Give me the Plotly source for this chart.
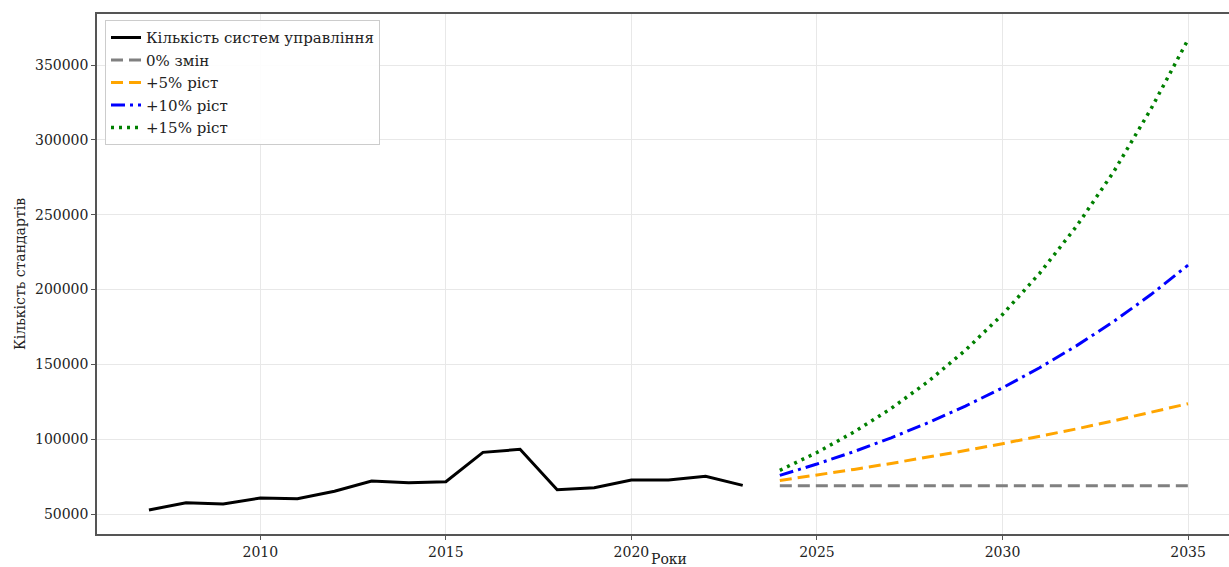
import plotly.graph_objects as go

hist_years = list(range(2007, 2024))
hist_values = [52700, 57500, 56700, 60700, 60200, 65200, 72000, 70900, 71600,
               91200, 93200, 66200, 67600, 72700, 72700, 75200, 69100]

proj_years = list(range(2024, 2036))
proj_0 = [68900] * 12
proj_5 = [72400, 76000, 79800, 83800, 88000, 92400, 97000, 101800, 106900, 112300, 117900, 123700]
proj_10 = [75800, 83400, 91700, 100900, 111000, 122100, 134300, 147700, 162500, 178700, 196600, 216300]
proj_15 = [79200, 91100, 104800, 120500, 138600, 159400, 183300, 210800, 242400, 278800, 320600, 367000]

x_ticks = [2010, 2015, 2020, 2025, 2030, 2035]
y_ticks = [50000, 100000, 150000, 200000, 250000, 300000, 350000]

FONT = "DejaVu Serif"

fig = go.Figure()
fig.add_trace(go.Scatter(x=hist_years, y=hist_values, mode="lines",
                         name="Кількість систем управління",
                         line=dict(color="black", width=3)))
fig.add_trace(go.Scatter(x=proj_years, y=proj_0, mode="lines", name="0% змін",
                         line=dict(color="gray", width=3, dash="12px,6px")))
fig.add_trace(go.Scatter(x=proj_years, y=proj_5, mode="lines", name="+5% ріст",
                         line=dict(color="orange", width=3, dash="12px,6px")))
fig.add_trace(go.Scatter(x=proj_years, y=proj_10, mode="lines", name="+10% ріст",
                         line=dict(color="blue", width=3, dash="14px,5px,3px,5px")))
fig.add_trace(go.Scatter(x=proj_years, y=proj_15, mode="lines", name="+15% ріст",
                         line=dict(color="green", width=3.5, dash="3px,5px")))

axis_common = dict(
    showgrid=True, gridcolor="#e8e8e8", gridwidth=1,
    showline=True, linecolor="#555555", linewidth=1.5,
    ticks="outside", ticklen=4, tickcolor="#555555",
    tickfont=dict(family=FONT, size=14, color="#222222"),
    zeroline=False, automargin=False,
)

# figure is wider than the window: its right edge is cropped, like the reference
fig.update_layout(
    width=1240, height=567,
    margin=dict(l=97, r=0, t=14, b=33),
    plot_bgcolor="white", paper_bgcolor="white",
    font=dict(family=FONT, size=13, color="#222222"),
    xaxis=dict(range=[2005.6, 2036.4], tickvals=x_ticks, mirror=True, **axis_common),
    yaxis=dict(range=[36637, 384077], tickvals=y_ticks, tickformat="d", mirror=False,
               title=dict(text="Кількість стандартів", font=dict(family=FONT, size=14), standoff=6),
               **axis_common),
    legend=dict(x=0.007, y=0.988, xanchor="left", yanchor="top",
                bgcolor="rgba(255,255,255,0.9)", bordercolor="#cccccc", borderwidth=1,
                font=dict(family=FONT, size=15, color="#222222"),
                tracegroupgap=0, itemwidth=30),
    showlegend=True,
    annotations=[dict(text="Роки", xref="paper", yref="paper", x=0.5, y=0,
                      xanchor="center", yanchor="top", yshift=-15, showarrow=False,
                      font=dict(family=FONT, size=14, color="#222222"))],
)

fig.write_html(
    "out.html",
    config={"displayModeBar": False},
    post_script="document.body.style.margin='0';document.body.style.overflow='hidden';"
                "document.documentElement.style.overflow='hidden';",
)
